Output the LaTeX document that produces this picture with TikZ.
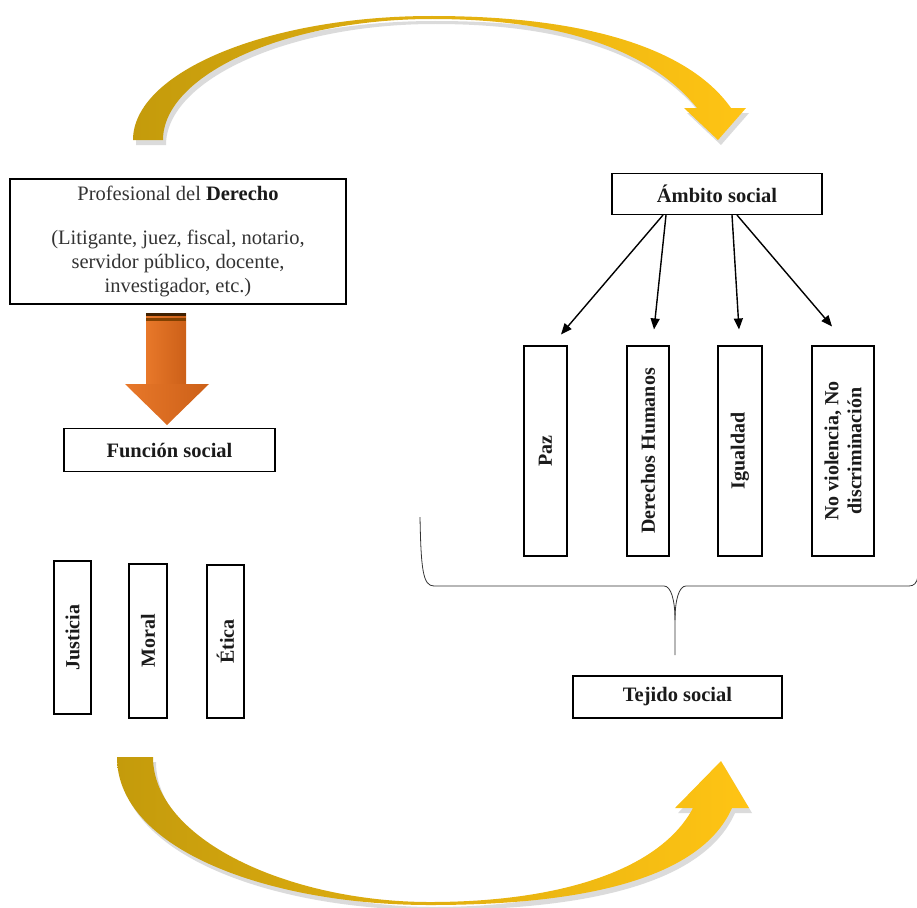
\documentclass[tikz,border=0pt]{standalone}
\usepackage{fontspec}
\setmainfont{Liberation Serif}
\usetikzlibrary{arrows.meta,calc}
\definecolor{txt}{HTML}{1A1A1A}
\definecolor{txtg}{HTML}{333333}
\definecolor{goldL}{HTML}{C49B0C}
\definecolor{goldR}{HTML}{FFC414}
\definecolor{orL}{HTML}{E8782A}
\definecolor{orM}{HTML}{FAAA66}
\definecolor{orR}{HTML}{CC6018}
\begin{document}
\begin{tikzpicture}[x=1pt,y=-1pt,
  box/.style={draw=black,line width=1.1pt,fill=white,inner sep=0pt},
  lbl/.style={text=txt,font=\fontsize{20.5}{23}\selectfont\bfseries},
  vlbl/.style={text=txt,font=\fontsize{20}{23}\selectfont\bfseries,rotate=90,align=center},
  arr/.style={line width=1.4pt,-{Triangle[length=11pt,width=9pt]}}]
\useasboundingbox (0,0) rectangle (917,907);

% ---- top golden arrow ----
\fill[black,opacity=0.14,shift={(3,5)}] (133,140) .. controls (133,72) and (268,16) .. (432,16)
  .. controls (590,16) and (690,50) .. (731,108) -- (746,108) -- (718,140) -- (684,108) -- (697,108)
  .. controls (660,62) and (585,19) .. (432,19) .. controls (285,19) and (163,75) .. (163,140) -- cycle;
\shade[left color=goldL,right color=goldR] (133,140) .. controls (133,72) and (268,16) .. (432,16)
  .. controls (590,16) and (690,50) .. (731,108) -- (746,108) -- (718,140) -- (684,108) -- (697,108)
  .. controls (660,62) and (585,19) .. (432,19) .. controls (285,19) and (163,75) .. (163,140) -- cycle;

% ---- bottom golden arrow ----
\fill[black,opacity=0.14,shift={(3,5)}] (117,757) -- (153,757) .. controls (153,840) and (290,902) .. (430,902)
  .. controls (560,902) and (660,870) .. (693,808) -- (675,808) -- (721,761) -- (749,808) -- (732,808)
  .. controls (700,880) and (580,905) .. (430,905) .. controls (270,905) and (117,850) .. (117,757) -- cycle;
\shade[left color=goldL,right color=goldR] (117,757) -- (153,757) .. controls (153,840) and (290,902) .. (430,902)
  .. controls (560,902) and (660,870) .. (693,808) -- (675,808) -- (721,761) -- (749,808) -- (732,808)
  .. controls (700,880) and (580,905) .. (430,905) .. controls (270,905) and (117,850) .. (117,757) -- cycle;

% ---- nodes ----
\node[box,minimum width=336pt,minimum height=125pt,align=center,text=txtg,
      font=\fontsize{20.5}{24}\selectfont] (prof) at (178,241.5)
  {Profesional del \textbf{\color{txt}Derecho}\\[20pt](Litigante, juez, fiscal, notario,\\servidor público, docente,\\investigador, etc.)};
\node[box,minimum width=211pt,minimum height=43pt,lbl] (func) at (169.5,450) {Función social};
\node[box,minimum width=210pt,minimum height=41pt,lbl] (amb) at (717,194) {Ámbito social};
\node[box,minimum width=209pt,minimum height=42pt,lbl] (tej) at (677.5,697) {Tejido social};

\node[box,minimum width=43pt,minimum height=210pt] (paz) at (545.5,451) {};
\node[box,minimum width=42pt,minimum height=210pt] (dh) at (648,451) {};
\node[box,minimum width=44pt,minimum height=210pt] (igu) at (740,451) {};
\node[box,minimum width=62pt,minimum height=210pt] (nov) at (843,451) {};
\node[vlbl] at (paz) {Paz};
\node[vlbl] at (dh) {Derechos Humanos};
\node[vlbl] at (igu) {Igualdad};
\node[vlbl] at (nov) {No violencia, No\\discriminación};

\node[box,minimum width=37pt,minimum height=153pt] (jus) at (72.5,637.5) {};
\node[box,minimum width=38pt,minimum height=154pt] (mor) at (148,641) {};
\node[box,minimum width=37pt,minimum height=153pt] (eti) at (225.5,641.5) {};
\node[vlbl] at (jus) {Justicia};
\node[vlbl] at (mor) {Moral};
\node[vlbl] at (eti) {Ética};

% ---- orange block arrow ----
\shade[left color=orL,middle color=orM,right color=orR] (146,313) rectangle (186,385);
\shade[left color=orL,middle color=orM,right color=orR] (125,384) -- (209,384) -- (167,425) -- cycle;
\fill[black!75!orange] (146,313) rectangle (186,316);
\fill[black!50!orange] (146,318) rectangle (186,321);

% ---- arrows from Ambito social ----
\draw[arr] ($(amb.south)+(-54,0)$) -- ($(paz.north)+(15.5,-11)$);
\draw[arr] ($(amb.south)+(-51,0)$) -- ($(dh.north)+(6,-16)$);
\draw[arr] ($(amb.south)+(15,0)$) -- ($(igu.north)+(-1,-16)$);
\draw[arr] ($(amb.south)+(20,0)$) -- ($(nov.north)+(-11,-19)$);

% ---- brace ----
\coordinate (bl) at (420,517);
\coordinate (bt) at (675,655);
\draw[line width=0.8pt,black!80] (bl) .. controls (421,570) and (423,586) .. (434,586) -- (664,586)
  .. controls (671,586) and (675,600) .. (675,620) -- (bt);
\draw[line width=0.8pt,black!80] (675,620) .. controls (675,600) and (679,586) .. (686,586) -- (909,586)
  .. controls (914,586) and (917,583) .. (918,576);
\end{tikzpicture}
\end{document}
